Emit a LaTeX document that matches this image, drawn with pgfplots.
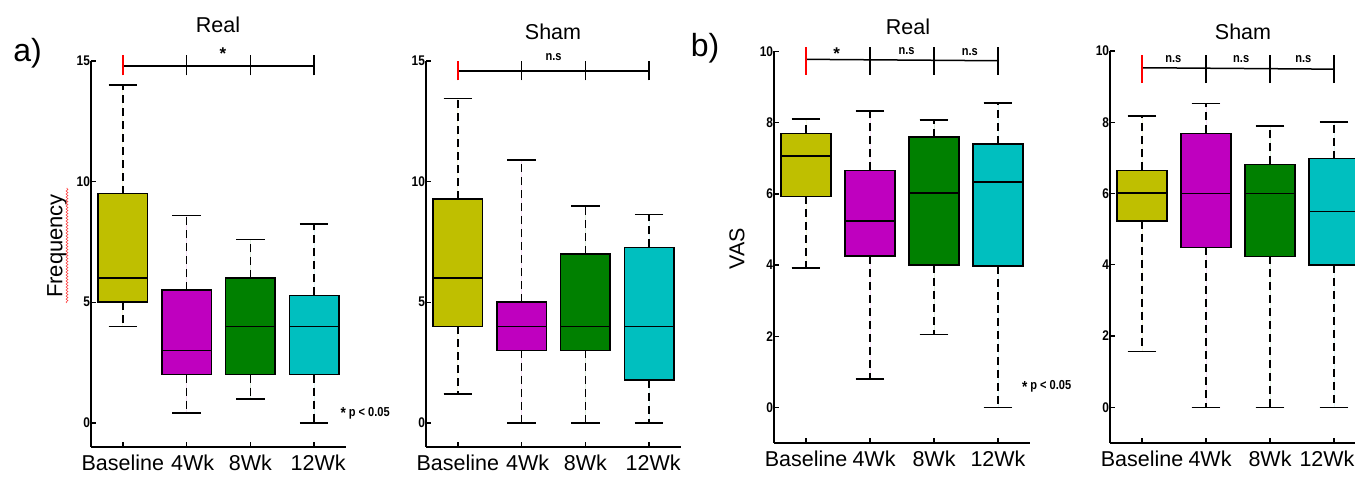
\documentclass[border=0pt]{standalone}
\usepackage{fontspec}
\setmainfont{Liberation Sans}
\usepackage{pgfplots}
\pgfplotsset{compat=1.18}
\usepgfplotslibrary{statistics}
\usetikzlibrary{decorations.pathmorphing}

\definecolor{cyel}{rgb}{0.75,0.75,0}
\definecolor{cmag}{rgb}{0.75,0,0.75}
\definecolor{cgrn}{rgb}{0,0.5,0}
\definecolor{ccya}{rgb}{0,0.75,0.75}

\pgfplotsset{
  panel/.style={
    scale only axis, width=255pt, xmin=0.5, xmax=4.5, ymin=-1,
    axis lines=left, axis line style={-, line width=1.5pt},
    tick align=inside, major tick length=5pt,
    tick style={black, line width=1.3pt},
    xtick={1,2,3,4}, xticklabels={Baseline,\hspace{12pt}4Wk,8Wk,\hspace{8pt}12Wk},
    xticklabel style={font=\fontsize{21.5}{22}\selectfont, yshift=-4pt},
    yticklabel style={font=\bfseries\fontsize{14}{14}\selectfont, xscale=0.85, inner sep=1pt},
    /pgf/number format/assume math mode=true,
    clip=false, anchor=south west,
    boxplot/draw direction=y,
    boxplot/every median/.style={line width=1.6pt},
  },
  boxplot/draw/lower whisker/.code={%
    \draw[line width=1.3pt, dash pattern=on 8pt off 5pt]
      (boxplot box cs:\pgfplotsboxplotvalue{lower quartile},0.5) --
      (boxplot box cs:\pgfplotsboxplotvalue{lower whisker},0.5);
    \draw[line width=1.6pt] (boxplot whisker cs:\pgfplotsboxplotvalue{lower whisker},0) --
      (boxplot whisker cs:\pgfplotsboxplotvalue{lower whisker},1);
  },
  boxplot/draw/upper whisker/.code={%
    \draw[line width=1.3pt, dash pattern=on 8pt off 5pt]
      (boxplot box cs:\pgfplotsboxplotvalue{upper quartile},0.5) --
      (boxplot box cs:\pgfplotsboxplotvalue{upper whisker},0.5);
    \draw[line width=1.6pt] (boxplot whisker cs:\pgfplotsboxplotvalue{upper whisker},0) --
      (boxplot whisker cs:\pgfplotsboxplotvalue{upper whisker},1);
  },
}

% position, lower whisker, Q1, median, Q3, upper whisker, colour
\newcommand{\bx}[7]{\addplot[fill=#7, draw=black, line width=1.5pt,
  boxplot prepared={draw position=#1, lower whisker=#2, lower quartile=#3,
  median=#4, upper quartile=#5, upper whisker=#6, box extend=0.78, whisker extend=0.45}]
  coordinates {};}

% significance bar: y of bar at left, at right, tick bottom, tick top, bar width
\newcommand{\sigbar}[5]{%
  \draw[line width=#5] (axis cs:1,#1) -- (axis cs:4,#2);
  \draw[line width=1.5pt] (axis cs:2,#3) -- (axis cs:2,#4);
  \draw[line width=1.5pt] (axis cs:3,#3) -- (axis cs:3,#4);
  \draw[line width=1.5pt] (axis cs:4,#3) -- (axis cs:4,#4);
  \draw[red, line width=1.5pt] (axis cs:1,#3) -- (axis cs:1,#4);
}

\newcommand{\sigfont}{\bfseries\fontsize{13}{13}\selectfont}
\newcommand{\pstar}{\raisebox{-2.5pt}{\fontsize{16}{16}\selectfont*}}

\begin{document}
\begin{tikzpicture}

% ---- a) Real
\begin{axis}[panel, height=386pt, ymax=15, ytick={0,5,10,15}, at={(91pt,34pt)}]
\bx{1}{4}{5}{6}{9.5}{14}{cyel}
\bx{2}{0.4}{2}{3}{5.5}{8.6}{cmag}
\bx{3}{1}{2}{4}{6}{7.6}{cgrn}
\bx{4}{0}{2}{4}{5.28}{8.25}{ccya}
\sigbar{14.8}{14.8}{14.4}{15.25}{2.2pt}
\node[font=\bfseries\fontsize{17}{17}\selectfont] at (axis cs:2.57,15.3) {*};
\node[font=\sigfont, xscale=0.85] at (axis cs:4.80,0.41) {\pstar\ p < 0.05};
\end{axis}

% ---- a) Sham
\begin{axis}[panel, height=386pt, ymax=15, ytick={0,5,10,15}, at={(426pt,34pt)}]
\bx{1}{1.2}{4}{6}{9.27}{13.45}{cyel}
\bx{2}{0}{3}{4}{5}{10.9}{cmag}
\bx{3}{0}{3}{4}{7}{9}{cgrn}
\bx{4}{0}{1.78}{4}{7.27}{8.63}{ccya}
\sigbar{14.6}{14.6}{14.2}{15.0}{2.2pt}
\node[font=\sigfont, xscale=0.85] at (axis cs:2.5,15.15) {n.s};
\end{axis}

% ---- b) Real
\begin{axis}[panel, width=256pt, height=391.5pt, ymax=10, ytick={0,2,4,6,8,10}, at={(774pt,38pt)},
  xticklabels={Baseline,\hspace{8pt}4Wk,8Wk,12Wk}]
\bx{1}{3.92}{5.93}{7.06}{7.7}{8.1}{cyel}
\bx{2}{0.79}{4.25}{5.24}{6.66}{8.32}{cmag}
\bx{3}{2.05}{4}{6.02}{7.6}{8.08}{cgrn}
\bx{4}{0}{3.97}{6.33}{7.4}{8.56}{ccya}
\sigbar{9.78}{9.74}{9.34}{10.12}{1.5pt}
\node[font=\bfseries\fontsize{17}{17}\selectfont] at (axis cs:1.48,9.95) {*};
\node[font=\sigfont, xscale=0.85] at (axis cs:2.57,10.0) {n.s};
\node[font=\sigfont, xscale=0.85] at (axis cs:3.56,9.98) {n.s};
\node[font=\sigfont, xscale=0.85] at (axis cs:4.76,0.59) {\pstar\ p < 0.05};
\end{axis}

% ---- b) Sham
\begin{axis}[panel, width=256pt, height=392pt, ymax=10, ytick={0,2,4,6,8,10}, at={(1110pt,38pt)},
  xticklabels={Baseline,\hspace{8pt}4Wk,8Wk,12Wk\rule{14pt}{0pt}}]
\bx{1}{1.57}{5.23}{6.01}{6.65}{8.17}{cyel}
\bx{2}{0}{4.49}{6}{7.69}{8.53}{cmag}
\bx{3}{0}{4.24}{6}{6.82}{7.89}{cgrn}
\bx{4}{0}{3.99}{5.5}{6.98}{8}{ccya}
\sigbar{9.53}{9.49}{9.1}{9.9}{1.5pt}
\node[font=\sigfont, xscale=0.85] at (axis cs:1.49,9.76) {n.s};
\node[font=\sigfont, xscale=0.85] at (axis cs:2.55,9.76) {n.s};
\node[font=\sigfont, xscale=0.85] at (axis cs:3.52,9.76) {n.s};
\end{axis}

% titles, panel letters, axis labels
\node[font=\fontsize{21.5}{22}\selectfont] at (218pt,456pt) {Real};
\node[font=\fontsize{21.5}{22}\selectfont] at (553pt,449pt) {Sham};
\node[font=\fontsize{21.5}{22}\selectfont] at (908pt,454pt) {Real};
\node[font=\fontsize{21.5}{22}\selectfont] at (1243pt,449pt) {Sham};
\node[font=\fontsize{32}{32}\selectfont] at (27.5pt,428pt) {a)};
\node[font=\fontsize{32}{32}\selectfont] at (705pt,433pt) {b)};
\node[font=\fontsize{22}{22}\selectfont, rotate=90] at (57pt,235pt) {Frequency};
\draw[red!75!white, line width=0.6pt, decorate, decoration={snake, amplitude=0.9pt, segment length=3pt}]
  (67pt,178pt) -- (67pt,293pt);
\node[font=\fontsize{21.5}{22}\selectfont, rotate=90] at (737pt,232pt) {VAS};

\pgfresetboundingbox
\path[use as bounding box] (0pt,0pt) rectangle (1355pt,481pt);
\end{tikzpicture}
\end{document}
